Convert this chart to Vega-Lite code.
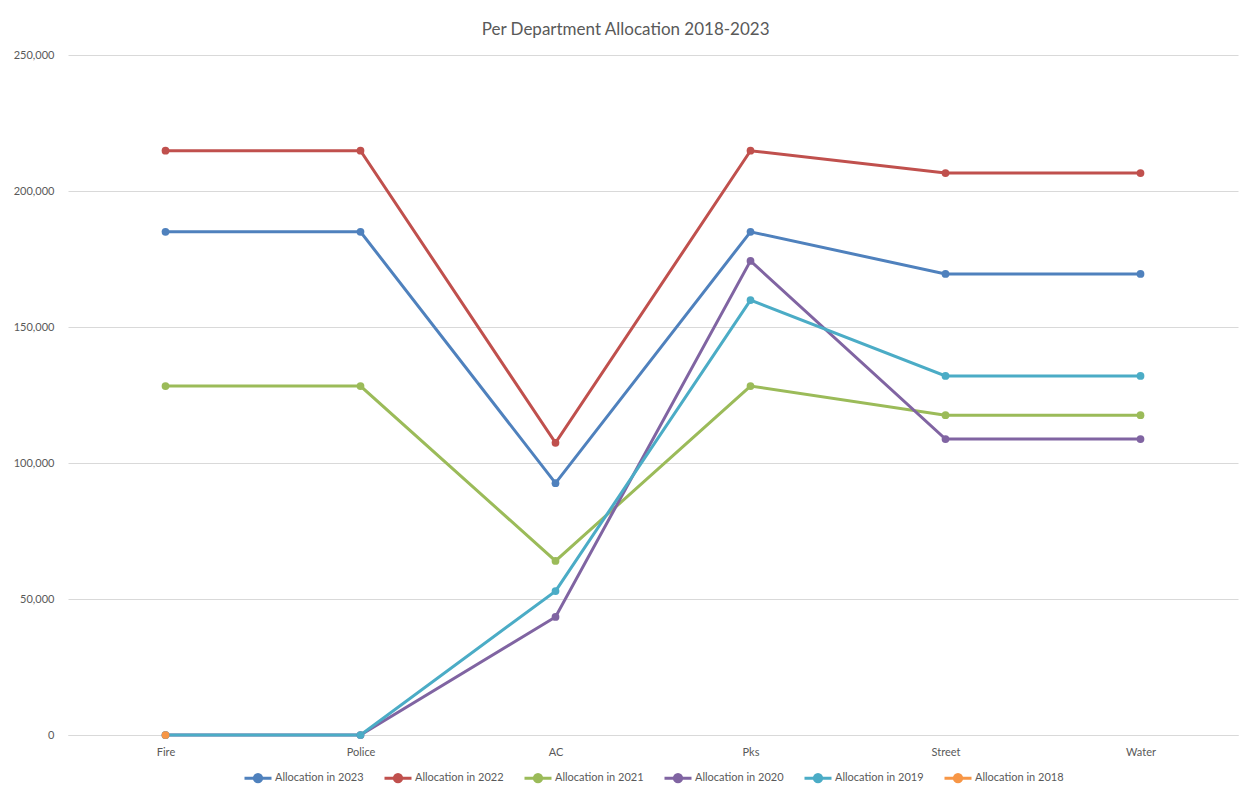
{
  "$schema": "https://vega.github.io/schema/vega-lite/v6.json",
  "autosize": {"type": "none"},
  "width": 1170,
  "height": 680,
  "padding": {"left": 68, "top": 55, "right": 12, "bottom": 58},
  "background": "white",
  "title": {
    "text": "Per Department Allocation 2018-2023",
    "font": "Lato",
    "fontSize": 17,
    "fontWeight": "normal",
    "color": "#595959",
    "anchor": "middle",
    "frame": "bounds",
    "offset": 10
  },
  "config": {
    "view": {"stroke": null},
    "font": "Lato",
    "legend": {"layout": {"bottom": {"anchor": "middle"}}}
  },
  "data": {
    "values": [
      {"dept": "Fire", "series": "Allocation in 2023", "value": 185000},
      {"dept": "Police", "series": "Allocation in 2023", "value": 185000},
      {"dept": "AC", "series": "Allocation in 2023", "value": 92600},
      {"dept": "Pks", "series": "Allocation in 2023", "value": 185000},
      {"dept": "Street", "series": "Allocation in 2023", "value": 169500},
      {"dept": "Water", "series": "Allocation in 2023", "value": 169500},
      {"dept": "Fire", "series": "Allocation in 2022", "value": 214800},
      {"dept": "Police", "series": "Allocation in 2022", "value": 214800},
      {"dept": "AC", "series": "Allocation in 2022", "value": 107400},
      {"dept": "Pks", "series": "Allocation in 2022", "value": 214800},
      {"dept": "Street", "series": "Allocation in 2022", "value": 206600},
      {"dept": "Water", "series": "Allocation in 2022", "value": 206600},
      {"dept": "Fire", "series": "Allocation in 2021", "value": 128300},
      {"dept": "Police", "series": "Allocation in 2021", "value": 128300},
      {"dept": "AC", "series": "Allocation in 2021", "value": 64000},
      {"dept": "Pks", "series": "Allocation in 2021", "value": 128300},
      {"dept": "Street", "series": "Allocation in 2021", "value": 117600},
      {"dept": "Water", "series": "Allocation in 2021", "value": 117600},
      {"dept": "Fire", "series": "Allocation in 2020", "value": 0},
      {"dept": "Police", "series": "Allocation in 2020", "value": 0},
      {"dept": "AC", "series": "Allocation in 2020", "value": 43400},
      {"dept": "Pks", "series": "Allocation in 2020", "value": 174300},
      {"dept": "Street", "series": "Allocation in 2020", "value": 108800},
      {"dept": "Water", "series": "Allocation in 2020", "value": 108800},
      {"dept": "Fire", "series": "Allocation in 2019", "value": 0},
      {"dept": "Police", "series": "Allocation in 2019", "value": 0},
      {"dept": "AC", "series": "Allocation in 2019", "value": 52900},
      {"dept": "Pks", "series": "Allocation in 2019", "value": 159900},
      {"dept": "Street", "series": "Allocation in 2019", "value": 132000},
      {"dept": "Water", "series": "Allocation in 2019", "value": 132000},
      {"dept": "Fire", "series": "Allocation in 2018", "value": 0}
    ]
  },
  "mark": {"type": "line", "strokeWidth": 3, "point": {"filled": true, "size": 60, "opacity": 1}},
  "encoding": {
    "x": {
      "field": "dept",
      "type": "nominal",
      "sort": ["Fire", "Police", "AC", "Pks", "Street", "Water"],
      "scale": {"type": "point", "padding": 0.5},
      "axis": {
        "title": null,
        "labelAngle": 0,
        "labelFont": "Lato",
        "labelFontSize": 11,
        "labelColor": "#595959",
        "labelPadding": 11,
        "ticks": false,
        "domain": true,
        "domainColor": "#d9d9d9",
        "domainWidth": 1,
        "grid": false
      }
    },
    "y": {
      "field": "value",
      "type": "quantitative",
      "scale": {"domain": [0, 250000], "nice": false},
      "axis": {
        "title": null,
        "values": [0, 50000, 100000, 150000, 200000, 250000],
        "format": ",.0f",
        "labelFont": "Lato",
        "labelFontSize": 11,
        "labelColor": "#595959",
        "labelPadding": 14,
        "ticks": false,
        "domain": false,
        "grid": true,
        "gridColor": "#d9d9d9",
        "gridWidth": 1
      }
    },
    "color": {
      "field": "series",
      "type": "nominal",
      "scale": {
        "domain": ["Allocation in 2023", "Allocation in 2022", "Allocation in 2021", "Allocation in 2020", "Allocation in 2019", "Allocation in 2018"],
        "range": ["#4F81BD", "#C0504D", "#9BBB59", "#8064A2", "#4BACC6", "#F79646"]
      },
      "legend": {
        "title": null,
        "orient": "bottom",
        "direction": "horizontal",
        "offset": 6,
        "labelFont": "Lato",
        "labelFontSize": 11,
        "labelColor": "#595959",
        "labelOffset": 2,
        "columnPadding": 14,
        "symbolType": "M-1,0L1,0M-0.27,0A0.27,0.27 0 1 1 0.27,0A0.27,0.27 0 1 1 -0.27,0Z",
        "symbolSize": 729,
        "symbolStrokeWidth": 3,
        "encode": {
          "symbols": {
            "update": {
              "fill": {"scale": "color", "field": "value"},
              "stroke": {"scale": "color", "field": "value"},
              "strokeWidth": {"value": 3},
              "opacity": {"value": 1}
            }
          }
        }
      }
    }
  }
}
